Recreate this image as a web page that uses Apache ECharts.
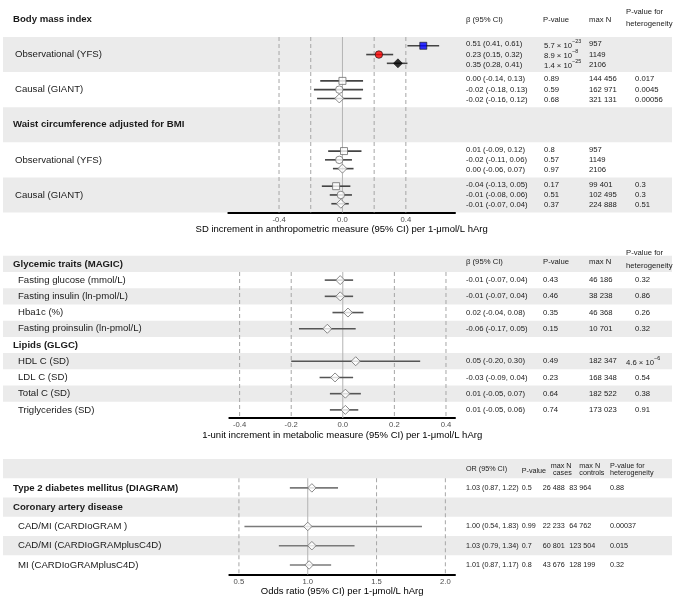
<!DOCTYPE html>
<html><head><meta charset="utf-8">
<script src="https://cdn.jsdelivr.net/npm/echarts@6/dist/echarts.min.js"></script>
<style>html,body{margin:0;padding:0;background:#fff}#c{width:675px;height:599px}</style>
</head><body><div id="c"></div>
<script>
const FONT = '"Liberation Sans", Arial, sans-serif';

// ---------------- Panel 1: anthropometric ----------------
const p1GroupTitles = ['Body mass index', 'Waist circumference adjusted for BMI'];
const p1RowLabels = ['Observational (YFS)', 'Causal (GIANT)'];
const p1ColHeaders = ['β (95% CI)', 'P-value', 'max N'];
const p1HetHeader = ['P-value for', 'heterogeneity'];
const p1Ticks = [-0.4, 0.0, 0.4];
const p1RefLines = [-0.4, -0.2, 0.0, 0.2, 0.4];
const p1AxisTitle = 'SD increment in anthropometric measure (95% CI) per 1-μmol/L hArg';

const bmiObsEst = [0.51, 0.23, 0.35];
const bmiObsLo  = [0.41, 0.15, 0.28];
const bmiObsHi  = [0.61, 0.32, 0.41];
const bmiObsP   = ['5.7 × 10^-23', '8.9 × 10^-8', '1.4 × 10^-25'];
const bmiObsN   = ['957', '1149', '2106'];

const bmiCauEst = [0.00, -0.02, -0.02];
const bmiCauLo  = [-0.14, -0.18, -0.16];
const bmiCauHi  = [0.13, 0.13, 0.12];
const bmiCauP   = ['0.89', '0.59', '0.68'];
const bmiCauN   = ['144 456', '162 971', '321 131'];
const bmiCauHet = ['0.017', '0.0045', '0.00056'];

const waiObsEst = [0.01, -0.02, 0.00];
const waiObsLo  = [-0.09, -0.11, -0.06];
const waiObsHi  = [0.12, 0.06, 0.07];
const waiObsP   = ['0.8', '0.57', '0.97'];
const waiObsN   = ['957', '1149', '2106'];

const waiCauEst = [-0.04, -0.01, -0.01];
const waiCauLo  = [-0.13, -0.08, -0.07];
const waiCauHi  = [0.05, 0.06, 0.04];
const waiCauP   = ['0.17', '0.51', '0.37'];
const waiCauN   = ['99 401', '102 495', '224 888'];
const waiCauHet = ['0.3', '0.3', '0.51'];

// ---------------- Panel 2: metabolic ----------------
const p2GroupTitles = ['Glycemic traits (MAGIC)', 'Lipids (GLGC)'];
const p2ColHeaders = ['β (95% CI)', 'P-value', 'max N'];
const p2HetHeader = ['P-value for', 'heterogeneity'];
const p2Ticks = [-0.4, -0.2, 0.0, 0.2, 0.4];
const p2RefLines = [-0.4, -0.2, 0.0, 0.2, 0.4];
const p2AxisTitle = '1-unit increment in metabolic measure (95% CI) per 1-μmol/L hArg';

const glyLabels = ['Fasting glucose (mmol/L)', 'Fasting insulin (ln-pmol/L)', 'Hba1c (%)', 'Fasting proinsulin (ln-pmol/L)'];
const glyEst = [-0.01, -0.01, 0.02, -0.06];
const glyLo  = [-0.07, -0.07, -0.04, -0.17];
const glyHi  = [0.04, 0.04, 0.08, 0.05];
const glyP   = ['0.43', '0.46', '0.35', '0.15'];
const glyN   = ['46 186', '38 238', '46 368', '10 701'];
const glyHet = ['0.32', '0.86', '0.26', '0.32'];

const lipLabels = ['HDL C (SD)', 'LDL C (SD)', 'Total C (SD)', 'Triglycerides (SD)'];
const lipEst = [0.05, -0.03, 0.01, 0.01];
const lipLo  = [-0.20, -0.09, -0.05, -0.05];
const lipHi  = [0.30, 0.04, 0.07, 0.06];
const lipP   = ['0.49', '0.23', '0.64', '0.74'];
const lipN   = ['182 347', '168 348', '182 522', '173 023'];
const lipHet = ['4.6 × 10^-6', '0.54', '0.38', '0.91'];

// ---------------- Panel 3: disease ----------------
const p3ColHeaders = ['OR (95% CI)', 'P-value'];
const p3CasesHeader = ['max N', 'cases'];
const p3CtrlHeader = ['max N', 'controls'];
const p3HetHeader = ['P-value for', 'heterogeneity'];
const p3Ticks = [0.5, 1.0, 1.5, 2.0];
const p3RefLines = [0.5, 1.0, 1.5, 2.0];
const p3AxisTitle = 'Odds ratio (95% CI) per 1-μmol/L hArg';

const t2dLabel = 'Type 2 diabetes mellitus (DIAGRAM)';
const t2dEst = [1.03], t2dLo = [0.87], t2dHi = [1.22];
const t2dP = ['0.5'], t2dCases = ['26 488'], t2dCtrl = ['83 964'], t2dHet = ['0.88'];

const cadTitle = 'Coronary artery disease';
const cadLabels = ['CAD/MI (CARDIoGRAM )', 'CAD/MI (CARDIoGRAMplusC4D)', 'MI (CARDIoGRAMplusC4D)'];
const cadEst = [1.00, 1.03, 1.01];
const cadLo  = [0.54, 0.79, 0.87];
const cadHi  = [1.83, 1.34, 1.17];
const cadP   = ['0.99', '0.7', '0.8'];
const cadCases = ['22 233', '60 801', '43 676'];
const cadCtrl  = ['64 762', '123 504', '128 199'];
const cadHet   = ['0.00037', '0.015', '0.32'];

// ================= build =================
const chart = echarts.init(document.getElementById('c'));
const f2 = v => v.toFixed(2);
const ciText = (e, l, h) => `${f2(e)} (${f2(l)}, ${f2(h)})`;

const grids = [
  {left: 228.3, width: 226.7, top: 37, height: 175.5},
  {left: 229.3, width: 225.7, top: 272, height: 146},
  {left: 229.3, width: 225.7, top: 459, height: 115.6}
];
const xRanges = [[-0.72, 0.71], [-0.44, 0.435], [0.43, 2.07]];
const yRanges = [[4, 24], [0, 9], [0, 6]];
const ticks = [p1Ticks, p2Ticks, p3Ticks];
const titles = [p1AxisTitle, p2AxisTitle, p3AxisTitle];

const xAxes = grids.map((g, i) => ({
  gridIndex: i, type: 'value', min: xRanges[i][0], max: xRanges[i][1],
  axisLine: {show: true, onZero: false, lineStyle: {color: '#000', width: 2}},
  axisTick: {show: false}, splitLine: {show: false},
  axisLabel: {customValues: ticks[i], formatter: v => v.toFixed(1), color: '#4d4d4d', fontSize: 7.7, fontFamily: FONT, margin: 3},
  name: titles[i], nameLocation: 'middle', nameGap: 10,
  nameTextStyle: {color: '#000', fontSize: 9.5, fontFamily: FONT}
}));
const yAxes = grids.map((g, i) => ({
  gridIndex: i, type: 'value', min: yRanges[i][0], max: yRanges[i][1], inverse: true, show: false
}));

function refSeries(gi, vals, nullVal, y0, y1) {
  return {
    type: 'custom', xAxisIndex: gi, yAxisIndex: gi, silent: true, z: 1,
    data: vals.map(v => [v, y0]),
    encode: {x: 0, y: 1},
    renderItem: (p, api) => {
      const x = api.value(0);
      const a = api.coord([x, y0]), b = api.coord([x, y1]);
      const solid = Math.abs(x - nullVal) < 1e-9;
      return {type: 'line', shape: {x1: a[0], y1: a[1], x2: b[0], y2: b[1]},
        style: {stroke: solid ? '#b3b3b3' : '#a6a6a6', lineWidth: 1, lineDash: solid ? null : [4, 3]}};
    }
  };
}
function ciSeries(gi, data, color) {
  return {
    type: 'custom', xAxisIndex: gi, yAxisIndex: gi, silent: true, z: 3,
    data: data, encode: {x: [0, 1], y: 2},
    renderItem: (p, api) => {
      const a = api.coord([api.value(0), api.value(2)]);
      const b = api.coord([api.value(1), api.value(2)]);
      return {type: 'line', shape: {x1: a[0], y1: a[1], x2: b[0], y2: b[1]},
        style: {stroke: color, lineWidth: 1.6}};
    }
  };
}
function ptSeries(gi, data) {
  return {type: 'scatter', xAxisIndex: gi, yAxisIndex: gi, silent: true, z: 4, data: data};
}

// panel 1 point sets
const p1Sets = [
  {band: 1, est: bmiObsEst, lo: bmiObsLo, hi: bmiObsHi, P: bmiObsP, N: bmiObsN, het: null, fills: ['#0000ff', '#ff0000', '#000000']},
  {band: 2, est: bmiCauEst, lo: bmiCauLo, hi: bmiCauHi, P: bmiCauP, N: bmiCauN, het: bmiCauHet, fills: null},
  {band: 4, est: waiObsEst, lo: waiObsLo, hi: waiObsHi, P: waiObsP, N: waiObsN, het: null, fills: null},
  {band: 5, est: waiCauEst, lo: waiCauLo, hi: waiCauHi, P: waiCauP, N: waiCauN, het: waiCauHet, fills: null}
];
const shapes = ['rect', 'circle', 'diamond'];
const shapeSize = [7, 7.5, 9];
const p1CI = [], p1Pts = [];
p1Sets.forEach(s => {
  s.est.forEach((e, k) => {
    const y = 4 * s.band + k + 1;
    p1CI.push([s.lo[k], s.hi[k], y]);
    p1Pts.push({value: [e, y], symbol: shapes[k], symbolSize: shapeSize[k],
      itemStyle: s.fills ? {color: s.fills[k], borderColor: '#111', borderWidth: 0.8}
                         : {color: '#fff', borderColor: '#6e6e6e', borderWidth: 1}});
  });
});

// panel 2
const p2Rows = [];
glyLabels.forEach((l, i) => p2Rows.push({row: i, est: glyEst[i], lo: glyLo[i], hi: glyHi[i]}));
lipLabels.forEach((l, i) => p2Rows.push({row: i + 5, est: lipEst[i], lo: lipLo[i], hi: lipHi[i]}));
const p2CI = p2Rows.map(r => [r.lo, r.hi, r.row + 0.5]);
const openDiamond = {color: '#fff', borderColor: '#6e6e6e', borderWidth: 1};
const p2Pts = p2Rows.map(r => ({value: [r.est, r.row + 0.5], symbol: 'diamond', symbolSize: 9, itemStyle: openDiamond}));

// panel 3
const p3Rows = [{row: 1, est: t2dEst[0], lo: t2dLo[0], hi: t2dHi[0]}];
cadLabels.forEach((l, i) => p3Rows.push({row: i + 3, est: cadEst[i], lo: cadLo[i], hi: cadHi[i]}));
const p3CI = p3Rows.map(r => [r.lo, r.hi, r.row + 0.5]);
const p3Pts = p3Rows.map(r => ({value: [r.est, r.row + 0.5], symbol: 'diamond', symbolSize: 8.5, itemStyle: openDiamond}));

chart.setOption({
  animation: false,
  grid: grids,
  xAxis: xAxes,
  yAxis: yAxes,
  series: [
    refSeries(0, p1RefLines, 0, 4, 24),
    refSeries(1, p2RefLines, 0, 0, 9),
    refSeries(2, p3RefLines, 1, 1, 6),
    ciSeries(0, p1CI, '#444'),
    ciSeries(1, p2CI, '#555'),
    ciSeries(2, p3CI, '#7a7a7a'),
    ptSeries(0, p1Pts),
    ptSeries(1, p2Pts),
    ptSeries(2, p3Pts)
  ]
});

// ---------- table / labels (layout) ----------
const py = (gi, v) => chart.convertToPixel({gridIndex: gi}, [xRanges[gi][0], v])[1];
const els = [];
const BAND_X = 3, BAND_W = 669;
function band(y0, y1) {
  els.push({type: 'rect', silent: true, z: -10, shape: {x: BAND_X, y: y0, width: BAND_W, height: y1 - y0}, style: {fill: '#ebebeb'}});
}
function txt(x, y, s, size, bold, color) {
  const m = s.match(/^(.*) × 10\^(.*)$/);
  const st = {x: 0, y: 0, fill: color || '#1a1a1a', fontSize: size, fontFamily: FONT,
    fontWeight: bold ? 'bold' : 'normal', align: 'left', verticalAlign: 'middle'};
  if (m) {
    st.text = `{b|${m[1]} × 10}{s|${m[2].replace('-', '−')}}`;
    st.rich = {b: {fontSize: size, fontFamily: FONT, fill: '#1a1a1a', lineHeight: 11, verticalAlign: 'bottom'},
               s: {fontSize: size * 0.7, fontFamily: FONT, fill: '#1a1a1a', verticalAlign: 'top'}};
  } else st.text = s;
  els.push({type: 'text', silent: true, z: 10, x: x, y: y, style: st});
}
const LBL = 9.6, TBL = 7.7, TBL3 = 7.2;

// Panel 1
[1, 3, 5].forEach(b => band(py(0, 4 * b), py(0, 4 * b + 4)));
txt(13, py(0, 2), p1GroupTitles[0], LBL, true);
txt(13, py(0, 14), p1GroupTitles[1], LBL, true);
txt(466, 20, p1ColHeaders[0], TBL); txt(543, 20, p1ColHeaders[1], TBL); txt(589, 20, p1ColHeaders[2], TBL);
txt(626, 12, p1HetHeader[0], TBL); txt(626, 24, p1HetHeader[1], TBL);
p1Sets.forEach((s, si) => {
  const c = py(0, 4 * s.band + 2);
  txt(15, c, p1RowLabels[si % 2], LBL);
  s.est.forEach((e, k) => {
    const y = c + (k - 1) * 10.3;
    txt(466, y, ciText(e, s.lo[k], s.hi[k]), TBL);
    txt(544, y, s.P[k], TBL);
    txt(589, y, s.N[k], TBL);
    if (s.het) txt(635, y, s.het[k], TBL);
  });
});

// Panel 2
[-1, 1, 3, 5, 7].forEach(r => band(py(1, r), py(1, r + 1)));
const h2 = py(1, -0.5);
txt(13, h2, p2GroupTitles[0], LBL, true);
txt(466, h2 - 2.5, p2ColHeaders[0], TBL); txt(543, h2 - 2.5, p2ColHeaders[1], TBL); txt(589, h2 - 2.5, p2ColHeaders[2], TBL);
txt(626, h2 - 11, p2HetHeader[0], TBL); txt(626, h2 + 1.5, p2HetHeader[1], TBL);
txt(13, py(1, 4.5), p2GroupTitles[1], LBL, true);
const p2Text = [];
glyLabels.forEach((l, i) => p2Text.push([i, l, ciText(glyEst[i], glyLo[i], glyHi[i]), glyP[i], glyN[i], glyHet[i]]));
lipLabels.forEach((l, i) => p2Text.push([i + 5, l, ciText(lipEst[i], lipLo[i], lipHi[i]), lipP[i], lipN[i], lipHet[i]]));
p2Text.forEach(t => {
  const y = py(1, t[0] + 0.5);
  txt(18, y, t[1], LBL);
  txt(466, y, t[2], TBL); txt(543, y, t[3], TBL); txt(589, y, t[4], TBL);
  txt(t[5].indexOf('^') >= 0 ? 626 : 635, y, t[5], TBL);
});

// Panel 3
[0, 2, 4].forEach(r => band(py(2, r), py(2, r + 1)));
const h3 = py(2, 0.5);
txt(466, h3 + 0.7, p3ColHeaders[0], TBL3); txt(521.7, h3 + 2, p3ColHeaders[1], TBL3);
txt(550.7, h3 - 2.8, p3CasesHeader[0], TBL3); txt(553, h3 + 4.6, p3CasesHeader[1], TBL3);
txt(579.3, h3 - 2.8, p3CtrlHeader[0], TBL3); txt(579.3, h3 + 4.6, p3CtrlHeader[1], TBL3);
txt(610, h3 - 2.8, p3HetHeader[0], TBL3); txt(610, h3 + 4.6, p3HetHeader[1], TBL3);
const yT = py(2, 1.5);
txt(13, yT, t2dLabel, LBL, true);
txt(466, yT, ciText(t2dEst[0], t2dLo[0], t2dHi[0]), TBL3);
txt(521.7, yT, t2dP[0], TBL3); txt(542.7, yT, t2dCases[0], TBL3); txt(569.3, yT, t2dCtrl[0], TBL3); txt(610, yT, t2dHet[0], TBL3);
txt(13, py(2, 2.5), cadTitle, LBL, true);
cadLabels.forEach((l, i) => {
  const y = py(2, i + 3.5);
  txt(18, y, l, LBL);
  txt(466, y, ciText(cadEst[i], cadLo[i], cadHi[i]), TBL3);
  txt(521.7, y, cadP[i], TBL3); txt(542.7, y, cadCases[i], TBL3); txt(569.3, y, cadCtrl[i], TBL3); txt(610, y, cadHet[i], TBL3);
});

chart.setOption({graphic: {elements: els}});
</script></body></html>
